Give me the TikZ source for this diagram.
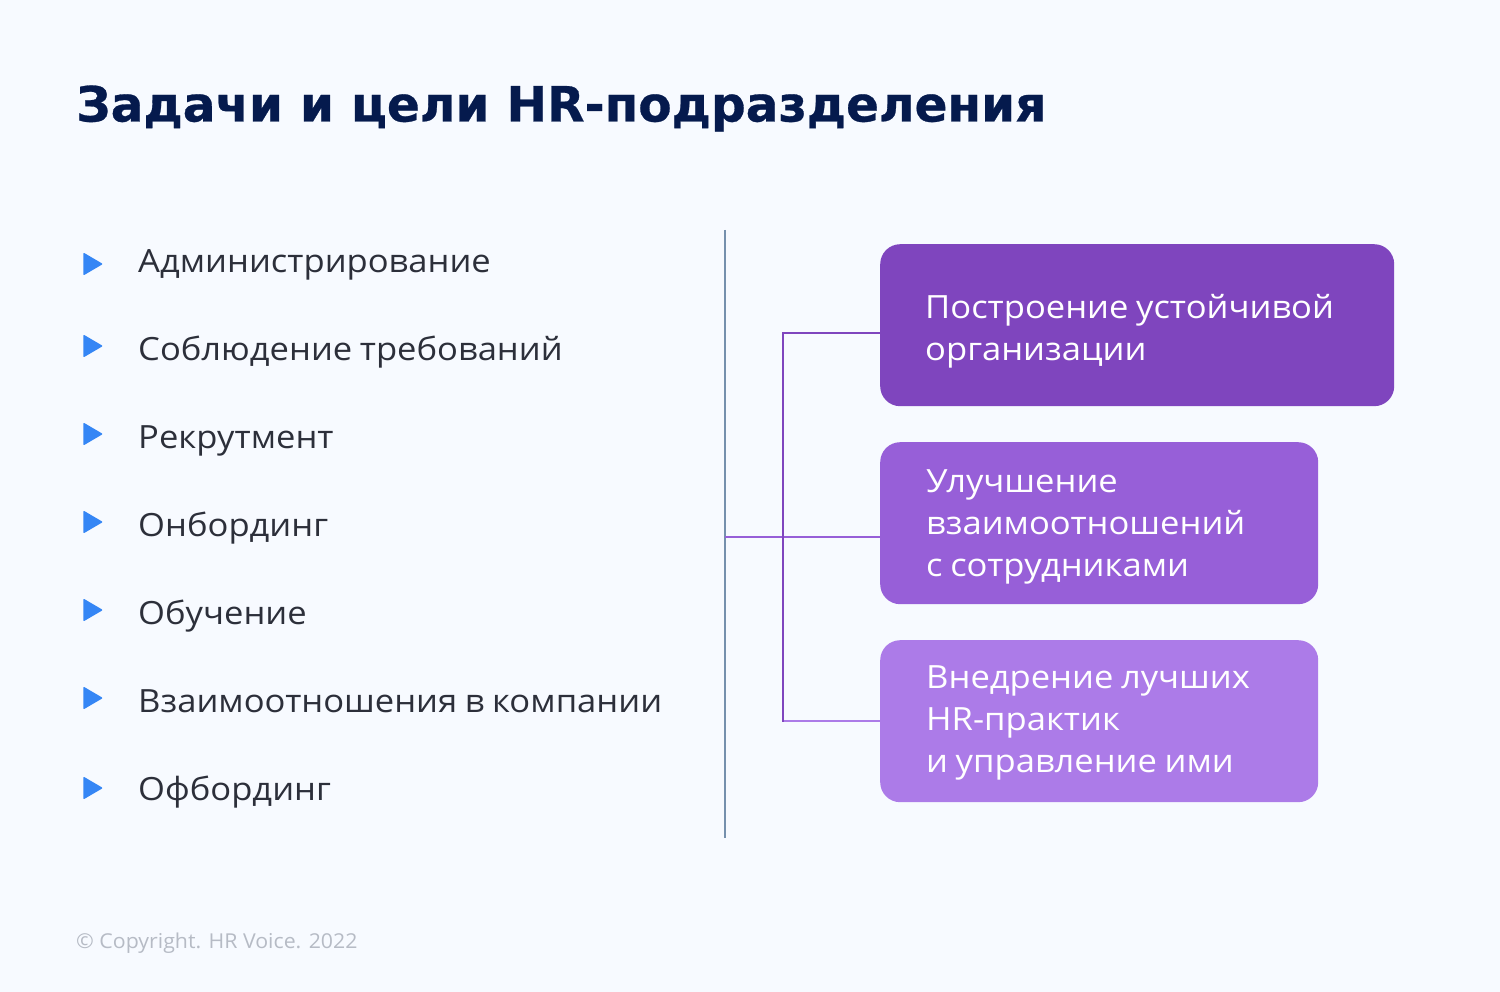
\documentclass[tikz,border=0pt]{standalone}
\usepackage{fontspec}
\setmainfont[FakeStretch=1.08,WordSpace=0.85]{Open Sans}
\newfontfamily\footfont[FakeStretch=1.04]{Open Sans}
\newfontfamily\titlefont[FakeBold=0.6]{DejaVu Sans Bold}
\usetikzlibrary{shapes.geometric}

\definecolor{pagebg}{HTML}{F7FAFF}
\definecolor{titleblue}{HTML}{051A4D}
\definecolor{itemgrey}{HTML}{2C2F3A}
\definecolor{footgrey}{HTML}{B6BBC5}
\definecolor{markblue}{HTML}{3586F5}
\definecolor{rulegrey}{HTML}{7590AD}
\definecolor{violetA}{HTML}{7F45BE}
\definecolor{violetB}{HTML}{975FD8}
\definecolor{violetC}{HTML}{AC7BE8}

\begin{document}
\begin{tikzpicture}[x=1pt, y=-1pt,
	itemtext/.style={anchor=base west, inner sep=0pt, text=itemgrey, font=\fontsize{32}{42}\selectfont},
	marker/.style={isosceles triangle, isosceles triangle stretches, fill=markblue, draw=markblue,
		line width=1.5pt, line join=round, minimum width=20.5pt, minimum height=17.5pt, inner sep=0pt, outer sep=0pt, anchor=lower side},
	goalbox/.style={rectangle, rounded corners=20pt, minimum height=162pt, inner sep=0pt, anchor=north west},
	goaltext/.style={anchor=west, inner sep=0pt, text=white, align=left, font=\fontsize{32}{42}\selectfont}]

	\useasboundingbox[fill=pagebg] (0,0) rectangle (1500,992);

	\node [anchor=base west, inner sep=0pt, text=titleblue, font=\titlefont\fontsize{48.6}{50}\selectfont] (heading) at (76,121.5) {Задачи и цели HR-подразделения};

	% left list
	\foreach \i/\my/\ty/\label in {1/264/273/Администрирование, 2/346/361/Соблюдение требований, 3/434/448/Рекрутмент,
		4/522/536.5/Онбординг, 5/610/624.5/Обучение, 6/698/712.5/Взаимоотношения в компании, 7/788/800.5/Офбординг} {
		\node [marker] (mark\i) at (84,\my) {};
		\node [itemtext] (item\i) at (138,\ty) {\label};
	}

	\coordinate (ruletop) at (725,230);
	\coordinate (rulebot) at (725,838);
	\draw[color=rulegrey, line width=2pt] (ruletop) -- (rulebot);

	% goal boxes
	\node [goalbox, fill=violetA, minimum width=514pt] (goal1) at (880,244) {};
	\node [goalbox, fill=violetB, minimum width=438pt] (goal2) at (880,442) {};
	\node [goalbox, fill=violetC, minimum width=438pt] (goal3) at (880,640) {};

	\node [goaltext] (goaltext1) at (925,331.5) {Построение устойчивой\\организации};
	\node [goaltext] (goaltext2) at (926,527) {Улучшение\\взаимоотношений\\с сотрудниками};
	\node [goaltext] (goaltext3) at (926,723) {Внедрение лучших\\HR-практик\\и управление ими};

	% connectors
	\coordinate (joint1) at (783,333);
	\coordinate (joint3) at (783,721);
	\coordinate (hub) at (725,537);
	\draw[color=violetB, line width=2pt] (hub) -- (hub -| goal2.west);
	\draw[color=violetC, line width=2pt] (joint3) -- (joint3 -| goal3.west);
	\draw[color=violetA, line width=2pt, line cap=rect] (joint3) -- (joint1) -- (joint1 -| goal1.west);

	\node [anchor=base west, inner sep=0pt, text=footgrey, font=\footfont\fontsize{20.5}{24}\selectfont] (copyright) at (76,948) {© Copyright. HR Voice. 2022};

\end{tikzpicture}
\end{document}
